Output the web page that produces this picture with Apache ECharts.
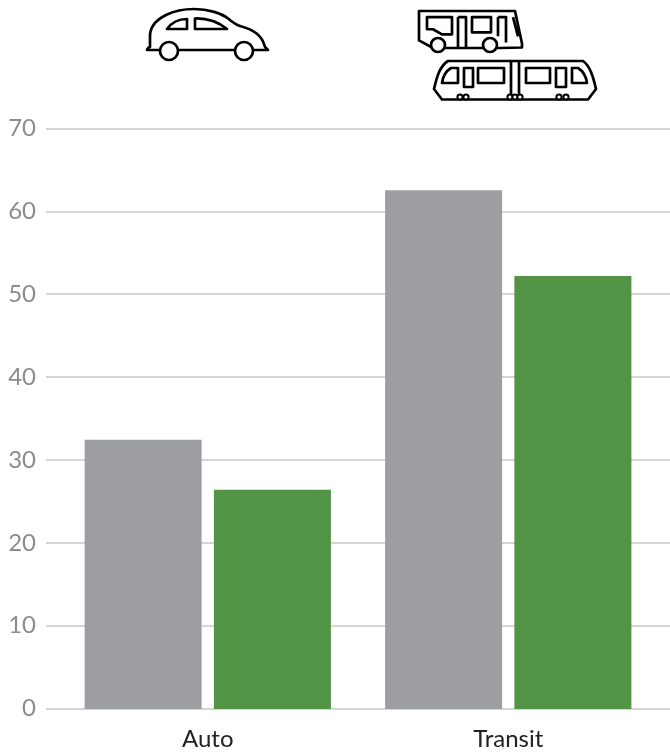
<!DOCTYPE html>
<html><head><meta charset="utf-8">
<style>html,body{margin:0;padding:0;background:#fff}#c{width:670px;height:755px}</style>
<script src="https://cdn.jsdelivr.net/npm/echarts@6/dist/echarts.min.js"></script>
</head><body><div id="c"></div>
<script>
const categories = ['Auto', 'Transit'];
const seriesGray = [32.5, 62.6];
const seriesGreen = [26.45, 52.25];
const yTicks = { min: 0, max: 70, interval: 10 };

const carPath = 'M147 50 C148 47 149 47 150 47 L150 36 C150 26 158 19 166 15 C176 10 186 9 194 9 C208 9 222 13 230 20 C234 23 236 25 240 26 C254 30 262 35 265 47 C266 48 267 49 268 50 L147 50 Z ' +
  'M167 29 L187 29 L187 19 C178 19 172 22 167 29 Z M195 29 L227 29 C218 22 208 18 195 18.5 Z';
const busPath = 'M419 11 L515 11 L522 43 L522 47 L500 47.5 L433 47.5 L419 40 Z ' +
  'M427 17 L452 17 L452 34 L442 34 L433 29 L427 29 Z M458 17 L466 17 L466 47 M458 17 L458 47 ' +
  'M472 17 L491 17 L491 32 L472 32 Z M498 17 L506 17 L506 42 M498 17 L498 36 M513 17 L518 36';
const trainPath = 'M448 61 L583 61 C590 66 593 76 596 89 L588 99.5 L442 99.5 L434 89 C437 76 440 66 448 61 Z ' +
  'M451 68 L458 68 L458 83 L442 83 C443 76 446 71 451 68 Z M464 68 L473 68 L473 87 L464 87 Z M478 68 L504 68 L504 83 L478 83 Z ' +
  'M511 61 L511 99 M519 61 L519 99 M526 68 L550 68 L550 83 L526 83 Z M556 68 L566 68 L566 87 L556 87 Z M572 68 L578 68 C583 71 586 76 587 83 L572 83 Z';
const wheels = [[169,51,9],[244,51,9],[438,45,7],[490,45,7]];
const bogies = [[460,97],[466,97],[510,97],[515,97],[520,97],[559,97],[566,97]];

const ink = { fill: 'none', stroke: '#000', lineWidth: 2.7, lineJoin: 'round' };
function pathEl(d, x, y, width, height) {
  return { type: 'path', shape: { pathData: d, layout: 'cover', x, y, width, height }, style: ink };
}
const iconItem = () => ({
  type: 'group',
  children: [
    pathEl(carPath, 147, 9, 121, 41),
    pathEl(busPath, 419, 11, 103, 37),
    pathEl(trainPath, 434, 61, 162, 38.5),
    ...wheels.map(w => ({ type: 'circle', shape: { cx: w[0], cy: w[1], r: w[2] }, style: { fill: '#fff', stroke: '#000', lineWidth: 2.7 } })),
    ...bogies.map(b => ({ type: 'circle', shape: { cx: b[0], cy: b[1], r: 2.6 }, style: { fill: '#fff', stroke: '#000', lineWidth: 2 } }))
  ]
});

const font = 'Lato, "Open Sans", sans-serif';
const chart = echarts.init(document.getElementById('c'), null, { renderer: 'canvas' });
chart.setOption({
  animation: false,
  backgroundColor: '#fff',
  grid: [
    { left: 46, right: 0, top: 128.5, height: 580 },
    { left: 57.5, width: 601, top: 129, height: 580 }
  ],
  xAxis: [
    { gridIndex: 0, type: 'category', data: categories, axisLine: { show: false }, axisTick: { show: false }, axisLabel: { show: false } },
    { gridIndex: 1, type: 'category', data: categories, axisLine: { show: false }, axisTick: { show: false },
      axisLabel: { color: '#222', fontFamily: font, fontSize: 24, margin: 18 } }
  ],
  yAxis: [
    { gridIndex: 0, type: 'value', min: yTicks.min, max: yTicks.max, interval: yTicks.interval,
      axisLine: { show: false }, axisTick: { show: false },
      axisLabel: { color: '#8a8c8e', fontFamily: font, fontSize: 24, margin: 10 },
      splitLine: { lineStyle: { color: '#d6d6d6', width: 2 } } },
    { gridIndex: 1, type: 'value', min: yTicks.min, max: yTicks.max, interval: yTicks.interval,
      axisLine: { show: false }, axisTick: { show: false }, axisLabel: { show: false }, splitLine: { show: false } }
  ],
  series: [
    { type: 'bar', xAxisIndex: 1, yAxisIndex: 1, data: seriesGray, barWidth: 117, barGap: '10.5%', itemStyle: { color: '#9d9ea2' } },
    { type: 'bar', xAxisIndex: 1, yAxisIndex: 1, data: seriesGreen, barWidth: 117, barGap: '10.5%', itemStyle: { color: '#539345' } },
    { type: 'custom', coordinateSystem: 'none', data: [0], silent: true, renderItem: iconItem, z: 5 }
  ]
});
</script></body></html>
